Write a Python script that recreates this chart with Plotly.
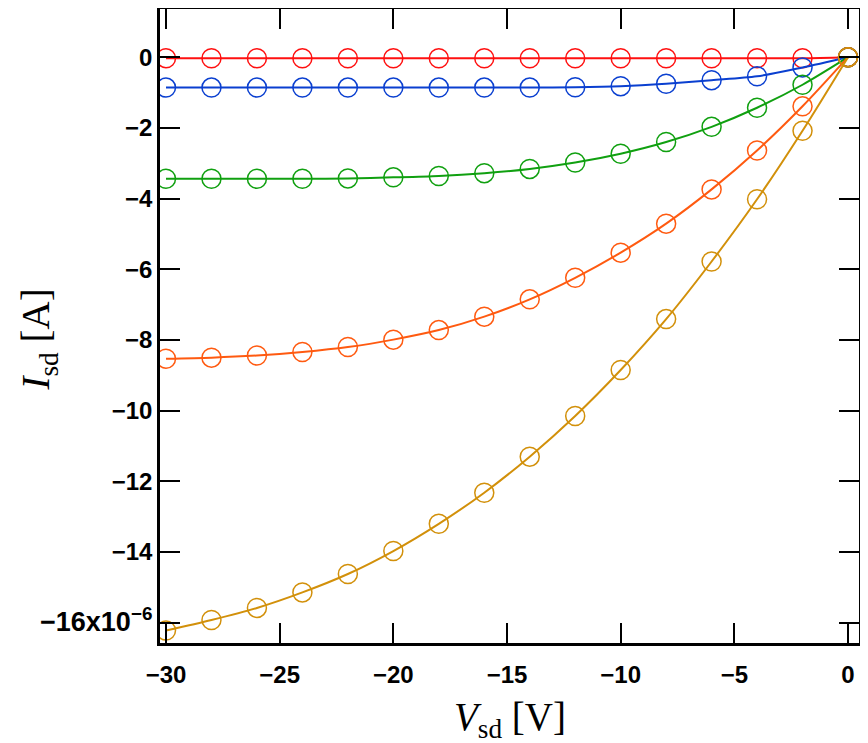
import plotly.graph_objects as go

vsd = [-30, -28, -26, -24, -22, -20, -18, -16, -14, -12, -10, -8, -6, -4, -2, 0]

i_red = [-0.03] * 15 + [0.0]
i_blue = [-0.86, -0.86, -0.86, -0.86, -0.86, -0.86, -0.86, -0.86, -0.86, -0.85, -0.82,
          -0.75, -0.65, -0.54, -0.29, 0.0]
i_green = [-3.44, -3.44, -3.44, -3.44, -3.43, -3.40, -3.36, -3.28, -3.16, -2.98, -2.73,
           -2.40, -1.97, -1.43, -0.78, 0.0]
i_orange = [-8.53, -8.50, -8.44, -8.34, -8.20, -7.99, -7.72, -7.34, -6.85, -6.24, -5.53,
            -4.71, -3.74, -2.64, -1.39, 0.0]
i_gold = [-16.22, -15.92, -15.58, -15.14, -14.62, -13.97, -13.20, -12.32, -11.30, -10.15,
          -8.85, -7.41, -5.78, -4.02, -2.08, 0.0]

series = [
    ("red", i_red, "#ff1010"),
    ("blue", i_blue, "#0a3fd0"),
    ("green", i_green, "#10a010"),
    ("orange", i_orange, "#ff5a10"),
    ("gold", i_gold, "#d2900a"),
]

x_tickvals = [-30, -25, -20, -15, -10, -5, 0]
x_ticktext = ["\u221230", "\u221225", "\u221220", "\u221215", "\u221210", "\u22125", "0"]
y_tickvals = [0, -2, -4, -6, -8, -10, -12, -14, -16]
y_ticktext = ["0", "\u22122", "\u22124", "\u22126", "\u22128", "\u221210", "\u221212", "\u221214",
              '<span style="font-size:27px">\u221216x10<sup>\u22126</sup></span>']

x_title = "<i>V</i><sub>sd</sub> [V]"
y_title = "<i>I</i><sub>sd</sub> [A]"

fig = go.Figure()
for name, ys, col in series:
    fig.add_trace(go.Scatter(
        x=vsd, y=ys, mode="lines+markers", name=name,
        line=dict(color=col, width=2, shape="spline", smoothing=0.8),
        marker=dict(symbol="circle-open", size=19, color=col, line=dict(width=1.5, color=col)),
        showlegend=False,
    ))

tickfont = dict(family="Liberation Sans, Arial, sans-serif", size=24, color="black", weight="bold")
titlefont = dict(family="Liberation Serif, Times New Roman, serif", size=39, color="black")
fig.update_layout(
    width=852, height=735,
    margin=dict(l=152, r=1, t=1, b=100),
    paper_bgcolor="white", plot_bgcolor="white",
    xaxis=dict(
        range=[-30.264, 0.484], tickvals=x_tickvals, ticktext=x_ticktext,
        ticks="inside", ticklen=20, tickwidth=2, tickcolor="black",
        showline=True, linewidth=2.5, linecolor="black", mirror="ticks",
        showgrid=False, zeroline=False, tickfont=tickfont, automargin=False,
        ticklabelstandoff=8,
    ),
    yaxis=dict(
        range=[-16.572, 1.363], tickvals=y_tickvals, ticktext=y_ticktext,
        ticks="inside", ticklen=20, tickwidth=2, tickcolor="black",
        showline=True, linewidth=2.5, linecolor="black", mirror="ticks",
        showgrid=False, zeroline=False, tickfont=tickfont, automargin=False,
    ),
    annotations=[
        dict(text=x_title, xref="paper", yref="paper", x=0.5007, y=-0.1199,
             xanchor="center", yanchor="middle", showarrow=False, font=titlefont),
        dict(text=y_title, xref="paper", yref="paper", x=-0.1731, y=0.4787,
             xanchor="center", yanchor="middle", showarrow=False, font=titlefont,
             textangle=-90),
    ],
)

fig.write_html("out.html")
